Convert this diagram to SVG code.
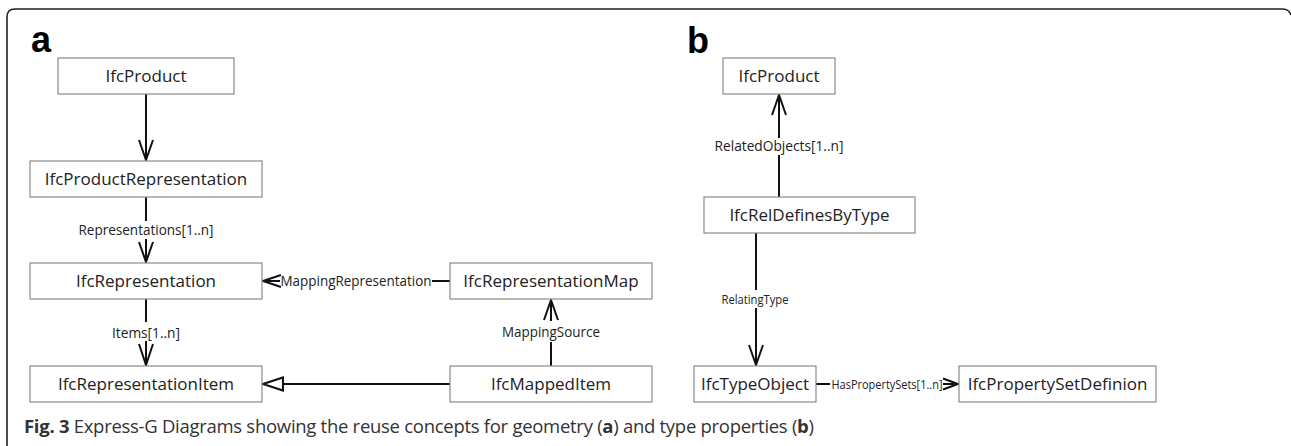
<svg xmlns="http://www.w3.org/2000/svg" width="1291" height="446" viewBox="0 0 1291 446">
<style>
.box{fill:#fff;stroke:#8a8a8a;stroke-width:1.2}
.nt{font-family:"Open Sans","Noto Sans",sans-serif;font-size:17px;fill:#222;text-anchor:middle}
.lb{font-family:"Open Sans","Noto Sans",sans-serif;font-size:13.6px;fill:#222;text-anchor:middle}
.sm{font-size:12.8px}
.xs{font-size:12px}
.ln{stroke:#111;stroke-width:2;fill:none}
.hd{stroke:#111;stroke-width:2;fill:none;stroke-linejoin:miter}
.tri{stroke:#111;stroke-width:2;fill:#fff}
.pl{font-family:"Liberation Sans",Arial,sans-serif;font-size:36px;font-weight:bold;fill:#000}
.cap{font-family:"Open Sans","Noto Sans",sans-serif;font-size:18.5px;fill:#333}
</style>
<rect width="1291" height="446" fill="#fff"/>
<path d="M7,446 L7,17 Q7,9 15,9 L1282,9 Q1289,9 1291,15" fill="none" stroke="#222" stroke-width="1.6"/>
<text class="pl" x="31" y="52">a</text>
<text class="pl" x="687" y="53">b</text>

<g id="connectors">
  <!-- a -->
  <line class="ln" x1="146" y1="94" x2="146" y2="160"/>
  <polyline class="hd" points="139,140 146,160 153,140"/>
  <line class="ln" x1="146" y1="197" x2="146" y2="221"/>
  <text class="lb" x="146" y="235" textLength="135" lengthAdjust="spacingAndGlyphs">Representations[1..n]</text>
  <line class="ln" x1="146" y1="239" x2="146" y2="262"/>
  <polyline class="hd" points="139,242 146,262 153,242"/>
  <line class="ln" x1="146" y1="299" x2="146" y2="322"/>
  <text class="lb" x="146" y="338" textLength="68" lengthAdjust="spacingAndGlyphs">Items[1..n]</text>
  <line class="ln" x1="146" y1="341" x2="146" y2="365"/>
  <polyline class="hd" points="139,344 146,365 153,344"/>
  <line class="ln" x1="263" y1="281" x2="280" y2="281"/>
  <polyline class="hd" points="281,275 263,281 281,287"/>
  <text class="lb" x="356" y="285.5" textLength="151" lengthAdjust="spacingAndGlyphs">MappingRepresentation</text>
  <line class="ln" x1="432" y1="281" x2="450" y2="281"/>
  <line class="ln" x1="551" y1="366" x2="551" y2="342"/>
  <text class="lb" x="551" y="337" textLength="98" lengthAdjust="spacingAndGlyphs">MappingSource</text>
  <line class="ln" x1="551" y1="321" x2="551" y2="300"/>
  <polyline class="hd" points="544,320 551,300 558,320"/>
  <line class="ln" x1="450" y1="384" x2="283" y2="384"/>
  <polygon class="tri" points="263,384 283,377.5 283,390.5"/>
  <!-- b -->
  <line class="ln" x1="779" y1="197" x2="779" y2="155"/>
  <text class="lb" x="779" y="151" textLength="129" lengthAdjust="spacingAndGlyphs">RelatedObjects[1..n]</text>
  <line class="ln" x1="779" y1="138" x2="779" y2="95"/>
  <polyline class="hd" points="772,115 779,95 786,115"/>
  <line class="ln" x1="756" y1="233" x2="756" y2="290"/>
  <text class="lb sm" x="755" y="304" textLength="67" lengthAdjust="spacingAndGlyphs">RelatingType</text>
  <line class="ln" x1="756" y1="308" x2="756" y2="365"/>
  <polyline class="hd" points="749,345 756,365 763,345"/>
  <line class="ln" x1="816" y1="384" x2="830" y2="384"/>
  <text class="lb xs" x="887" y="388.5" textLength="111" lengthAdjust="spacingAndGlyphs">HasPropertySets[1..n]</text>
  <line class="ln" x1="943" y1="384" x2="958" y2="384"/>
  <polyline class="hd" points="943,378.5 958,384 943,389.5"/>
</g>

<g id="a-IfcProduct"><rect class="box" x="58" y="58" width="176" height="36"/><text class="nt" x="146" y="82">IfcProduct</text></g>
<g id="a-IfcProductRepresentation"><rect class="box" x="30" y="161" width="232" height="36"/><text class="nt" x="146" y="185">IfcProductRepresentation</text></g>
<g id="a-IfcRepresentation"><rect class="box" x="30" y="263" width="232" height="36"/><text class="nt" x="146" y="287">IfcRepresentation</text></g>
<g id="a-IfcRepresentationItem"><rect class="box" x="30" y="366" width="232" height="36"/><text class="nt" x="146" y="390">IfcRepresentationItem</text></g>
<g id="a-IfcRepresentationMap"><rect class="box" x="450" y="263" width="202" height="36"/><text class="nt" x="551" y="287">IfcRepresentationMap</text></g>
<g id="a-IfcMappedItem"><rect class="box" x="450" y="366" width="202" height="36"/><text class="nt" x="551" y="390">IfcMappedItem</text></g>

<g id="b-IfcProduct"><rect class="box" x="723" y="58" width="112" height="36"/><text class="nt" x="779" y="82">IfcProduct</text></g>
<g id="b-IfcRelDefinesByType"><rect class="box" x="704" y="197" width="211" height="36"/><text class="nt" x="809.5" y="221">IfcRelDefinesByType</text></g>
<g id="b-IfcTypeObject"><rect class="box" x="694" y="366" width="122" height="36"/><text class="nt" x="755" y="390">IfcTypeObject</text></g>
<g id="b-IfcPropertySetDefinion"><rect class="box" x="959" y="366" width="197" height="36"/><text class="nt" x="1057.5" y="390">IfcPropertySetDefinion</text></g>

<text class="cap" x="24" y="433" textLength="790" lengthAdjust="spacing"><tspan font-weight="bold">Fig. 3</tspan> Express-G Diagrams showing the reuse concepts for geometry (<tspan font-weight="bold">a</tspan>) and type properties (<tspan font-weight="bold">b</tspan>)</text>
</svg>
